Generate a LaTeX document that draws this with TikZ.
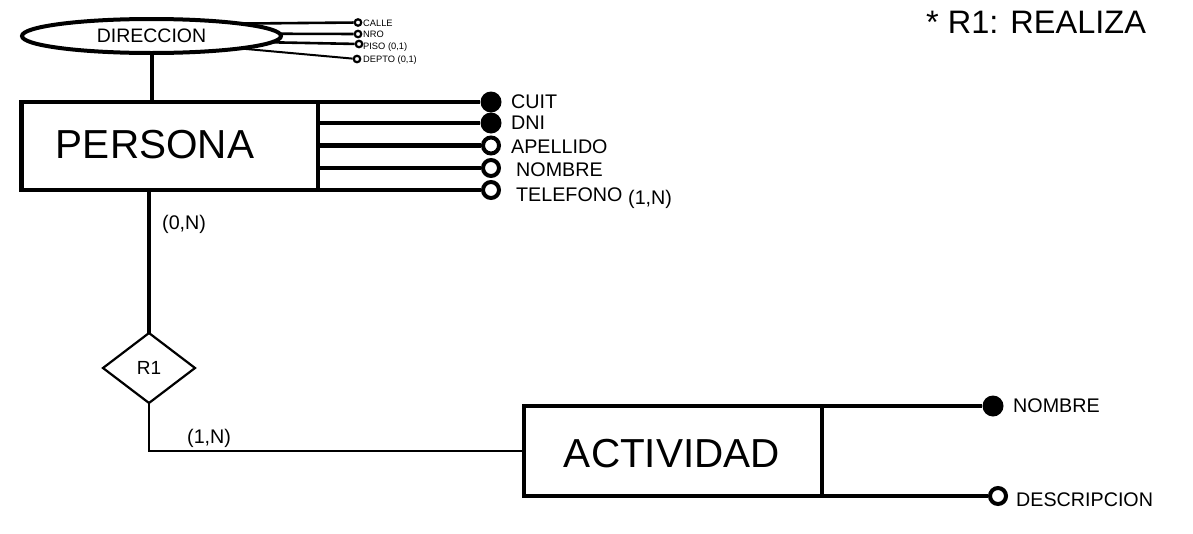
\documentclass[tikz,border=0pt]{standalone}
\usepackage{fontspec}
\setmainfont{Liberation Sans}
\usetikzlibrary{shapes.geometric}
\begin{document}
\begin{tikzpicture}[x=1pt,y=-1pt,
  entity/.style={draw, line width=4.5pt, rectangle, inner sep=0, outer sep=0},
  keyattr/.style={circle, fill=black, inner sep=0, minimum size=21pt},
  attr/.style={circle, draw, fill=white, line width=4pt, inner sep=0, minimum size=16pt},
  sattr/.style={circle, draw, fill=white, line width=2.2pt, inner sep=0, minimum size=6.5pt},
  lab/.style={anchor=base west, inner sep=0, font=\fontsize{19.7}{21}\selectfont},
  slab/.style={anchor=base west, inner sep=0, font=\fontsize{9.3}{10}\selectfont},
  big/.style={anchor=base, inner sep=0, font=\fontsize{40.5}{41}\selectfont},
  attrline/.style={line width=4.5pt},
  sline/.style={line width=2.6pt},
]
\useasboundingbox (0,0) rectangle (1193,533);

% DIRECCION
\node[ellipse, draw, fill=white, line width=4pt, minimum width=259pt, minimum height=34pt,
      inner sep=0, outer sep=0, font=\fontsize{19.5}{20}\selectfont] (dir) at (151.5,36) {DIRECCION};
\node[sattr] (calle) at (358,22.5) {};
\node[sattr] (nro) at (358,34) {};
\node[sattr] (piso) at (359,44) {};
\node[sattr] (depto) at (357,59) {};
\draw[sline] (dir.8) -- (calle);
\draw[sline] (dir.1) -- (nro);
\draw[sline] (dir.-3) -- (piso);
\draw[line width=2pt] (dir.-8) -- (depto);
\node[slab] at (363,26.3) {CALLE};
\node[slab] at (363,37.3) {NRO};
\node[slab] at (363,49) {PISO (0,1)};
\node[slab] at (363,62.8) {DEPTO (0,1)};

% PERSONA
\node[entity, minimum width=296.5pt, minimum height=88pt] (persona) at (169.75,146) {};
\node[big] (personat) at (155,158.5) {PERSONA};
\draw[line width=4pt] (dir.south) -- (dir.south |- persona.north);

\node[keyattr] (cuit) at (491,102) {};
\node[keyattr] (dni) at (491,123) {};
\node[attr] (apellido) at (491,145.5) {};
\node[attr] (nombre) at (491,168) {};
\node[attr] (telefono) at (491,190) {};
\draw[attrline] (persona.north east) -- (cuit);
\draw[attrline] (persona.east |- dni) -- (dni);
\draw[attrline] (persona.east |- apellido) -- (apellido);
\draw[attrline] (persona.east |- nombre) -- (nombre);
\draw[attrline] (persona.south east) -- (telefono);
\node[lab] at (511,108) {CUIT};
\node[lab] at (511,129.5) {DNI};
\node[lab] at (511,153) {APELLIDO};
\node[lab] at (516,176) {NOMBRE};
\node[lab] at (516,201) {TELEFONO};
\node[lab] at (628,204.5) {(1,N)};

% R1
\node[diamond, draw, line width=2.2pt, minimum width=92pt, minimum height=70pt,
      inner sep=0, outer sep=0, font=\fontsize{19}{20}\selectfont] (r1) at (149,368) {R1};
\draw[line width=3.2pt] (r1.north |- persona.south) -- (r1.north);
\node[lab] at (162,229) {(0,N)};

% ACTIVIDAD
\node[entity, minimum width=298pt, minimum height=90pt] (act) at (673,451) {};
\node[big] (actt) at (672,467.5) {ACTIVIDAD};
\draw[line width=2.7pt] (r1.south) -- (r1.south |- act.west) -- (act.west);
\node[lab] at (187,443.5) {(1,N)};

\node[keyattr] (anombre) at (993,406) {};
\node[attr] (adesc) at (998,496) {};
\draw[attrline] (act.north east) -- (anombre);
\draw[attrline] (act.south east) -- (adesc);
\node[lab] at (1013,412) {NOMBRE};
\node[lab] at (1016,506) {DESCRIPCION};

\node[anchor=base west, inner sep=0, font=\fontsize{32.5}{34}\selectfont] (note) at (926,33) {* R1: REALIZA};
\end{tikzpicture}
\end{document}
